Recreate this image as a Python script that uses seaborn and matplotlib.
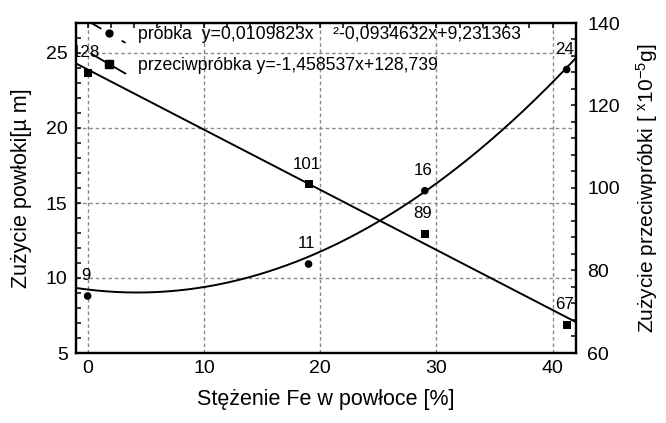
import numpy as np
import pandas as pd
import matplotlib
matplotlib.use("Agg")
import matplotlib.pyplot as plt
from matplotlib.lines import Line2D
from matplotlib.legend_handler import HandlerBase
from matplotlib.ticker import MultipleLocator
import seaborn as sns

# Measurements: Fe content of the coating vs. wear of sample and counter-sample
fe_pct = [0.0, 19.0, 29.0, 41.2]
coating_wear = [8.8, 10.93, 15.82, 23.9]        # µm (left axis)
counter_wear = [127.95, 100.9, 88.85, 66.8]     # x10^-5 g (right axis)

# Regression coefficients (highest power first)
quad_coef = [0.0109823, -0.0934632, 9.231363]
lin_coef = [-1.458537, 128.739]

x_ticks = [0, 10, 20, 30, 40]
left_ticks = [5, 10, 15, 20, 25]
right_ticks = [60, 80, 100, 120, 140]

x_lim = (-1.0, 42.0)
left_lim = (5, 27)
right_lim = (60, 140)

sns.set_theme(style="white")
plt.rcParams["font.family"] = ["Liberation Sans", "DejaVu Sans"]
plt.rcParams["mathtext.fontset"] = "custom"
plt.rcParams["mathtext.rm"] = "Liberation Sans"
plt.rcParams["mathtext.it"] = "Liberation Sans:italic"
plt.rcParams["text.color"] = "black"
plt.rcParams["axes.labelcolor"] = "black"
plt.rcParams["xtick.color"] = "black"
plt.rcParams["ytick.color"] = "black"


def fmt(v, nd):
    return f"{v:.{nd}f}".replace(".", ",")


class SlantHandler(HandlerBase):
    """Legend key drawn as a slanted line segment with the marker in the middle."""

    def __init__(self, dashes=None, **kw):
        super().__init__(**kw)
        self.dashes = dashes

    def create_artists(self, legend, orig_handle, xdescent, ydescent,
                       width, height, fontsize, trans):
        x0 = -xdescent
        x1 = -xdescent + width
        yc = (height - ydescent) / 2.0
        dy = 7.0
        line = Line2D([x0, x1], [yc + dy, yc - dy], color="black", lw=1.3)
        if self.dashes is not None:
            line.set_dashes(self.dashes)
        mk = Line2D([(x0 + x1) / 2.0], [yc], ls="none",
                    marker=orig_handle.get_marker(),
                    markersize=orig_handle.get_markersize(),
                    color="black")
        line.set_transform(trans)
        mk.set_transform(trans)
        return [line, mk]


fig = plt.figure(figsize=(6.66, 4.23), dpi=100)
ax = fig.add_axes([76 / 666, 1 - 353 / 423, 500 / 666, 330 / 423])
ax2 = ax.twinx()

# fitted curves across the full x range
xs = np.linspace(x_lim[0], x_lim[1], 300)
fit_df = pd.DataFrame({
    "x": xs,
    "quad": np.polyval(quad_coef, xs),
    "lin": np.polyval(lin_coef, xs),
})
sns.lineplot(data=fit_df, x="x", y="quad", ax=ax, color="black", lw=1.4,
             sort=False, estimator=None)
sns.lineplot(data=fit_df, x="x", y="lin", ax=ax2, color="black", lw=1.4,
             sort=False, estimator=None)

pts = pd.DataFrame({"fe": fe_pct, "coat": coating_wear, "counter": counter_wear})
sns.scatterplot(data=pts, x="fe", y="coat", ax=ax, marker="o", s=30,
                color="black", edgecolor="none", zorder=5)
sns.scatterplot(data=pts, x="fe", y="counter", ax=ax2, marker="s", s=34,
                color="black", edgecolor="none", zorder=5)

# value labels above the points
for xv, yv in zip(fe_pct, coating_wear):
    ax.annotate(f"{yv:.0f}", (xv, yv), xytext=(-1.5, 14.5),
                textcoords="offset points", ha="center", va="center",
                fontsize=12.2, clip_on=True)
for xv, yv in zip(fe_pct, counter_wear):
    ax2.annotate(f"{yv:.0f}", (xv, yv), xytext=(-1.5, 14.5),
                 textcoords="offset points", ha="center", va="center",
                 fontsize=12.2, clip_on=True)

# axes limits, ticks and grid
ax.set_xlim(*x_lim)
ax.set_ylim(*left_lim)
ax2.set_ylim(*right_lim)
ax.set_xticks(x_ticks)
ax.set_yticks(left_ticks)
ax2.set_yticks(right_ticks)
ax.xaxis.set_minor_locator(MultipleLocator(2))
ax.yaxis.set_minor_locator(MultipleLocator(1))
ax2.yaxis.set_minor_locator(MultipleLocator(4))

ax.grid(True, which="major", color="#8a8a8a", lw=1.0, ls=(0, (2.6, 2.0)))
ax2.grid(False)

ax.tick_params(axis="both", which="both", direction="in", length=3.5,
               width=1.1, top=True, right=False, labelsize=14)
ax.tick_params(axis="y", which="major", pad=6)
ax.tick_params(axis="x", which="major", pad=5)
ax2.tick_params(axis="y", which="both", direction="in", length=3.5,
                width=1.1, labelsize=14, pad=8)

for a in (ax, ax2):
    for sp in a.spines.values():
        sp.set_color("black")
        sp.set_linewidth(1.6)

ax.set_xlabel("Stężenie Fe w powłoce [%]", fontsize=15.5, labelpad=9)
ax.set_ylabel("Zużycie powłoki[µ m]", fontsize=15.5, labelpad=10)
ax2.set_ylabel(r"Zużycie przeciwpróbki [ $^{\mathrm{x}}$10$^{-5}$g]",
               fontsize=15, labelpad=10)

# legend with the regression equations
quad_label = ("próbka  y=" + fmt(quad_coef[0], 7) + "x    ²"
              + fmt(quad_coef[1], 7) + "x+" + fmt(quad_coef[2], 6))
lin_label = ("przeciwpróbka y=" + fmt(lin_coef[0], 6) + "x+"
             + fmt(lin_coef[1], 3))
h_quad = Line2D([], [], color="black", marker="o", markersize=5)
h_lin = Line2D([], [], color="black", marker="s", markersize=5.5)
ax2.legend([h_quad, h_lin], [quad_label, lin_label],
           handler_map={h_quad: SlantHandler(dashes=(6, 13, 8, 2)),
                        h_lin: SlantHandler()},
           loc="upper left", bbox_to_anchor=(0.032, 0.99),
           frameon=False, fontsize=12.7, borderpad=0, borderaxespad=0,
           handlelength=1.9, handletextpad=0.72, labelspacing=0.78)

fig.savefig("out.png", dpi=100)
